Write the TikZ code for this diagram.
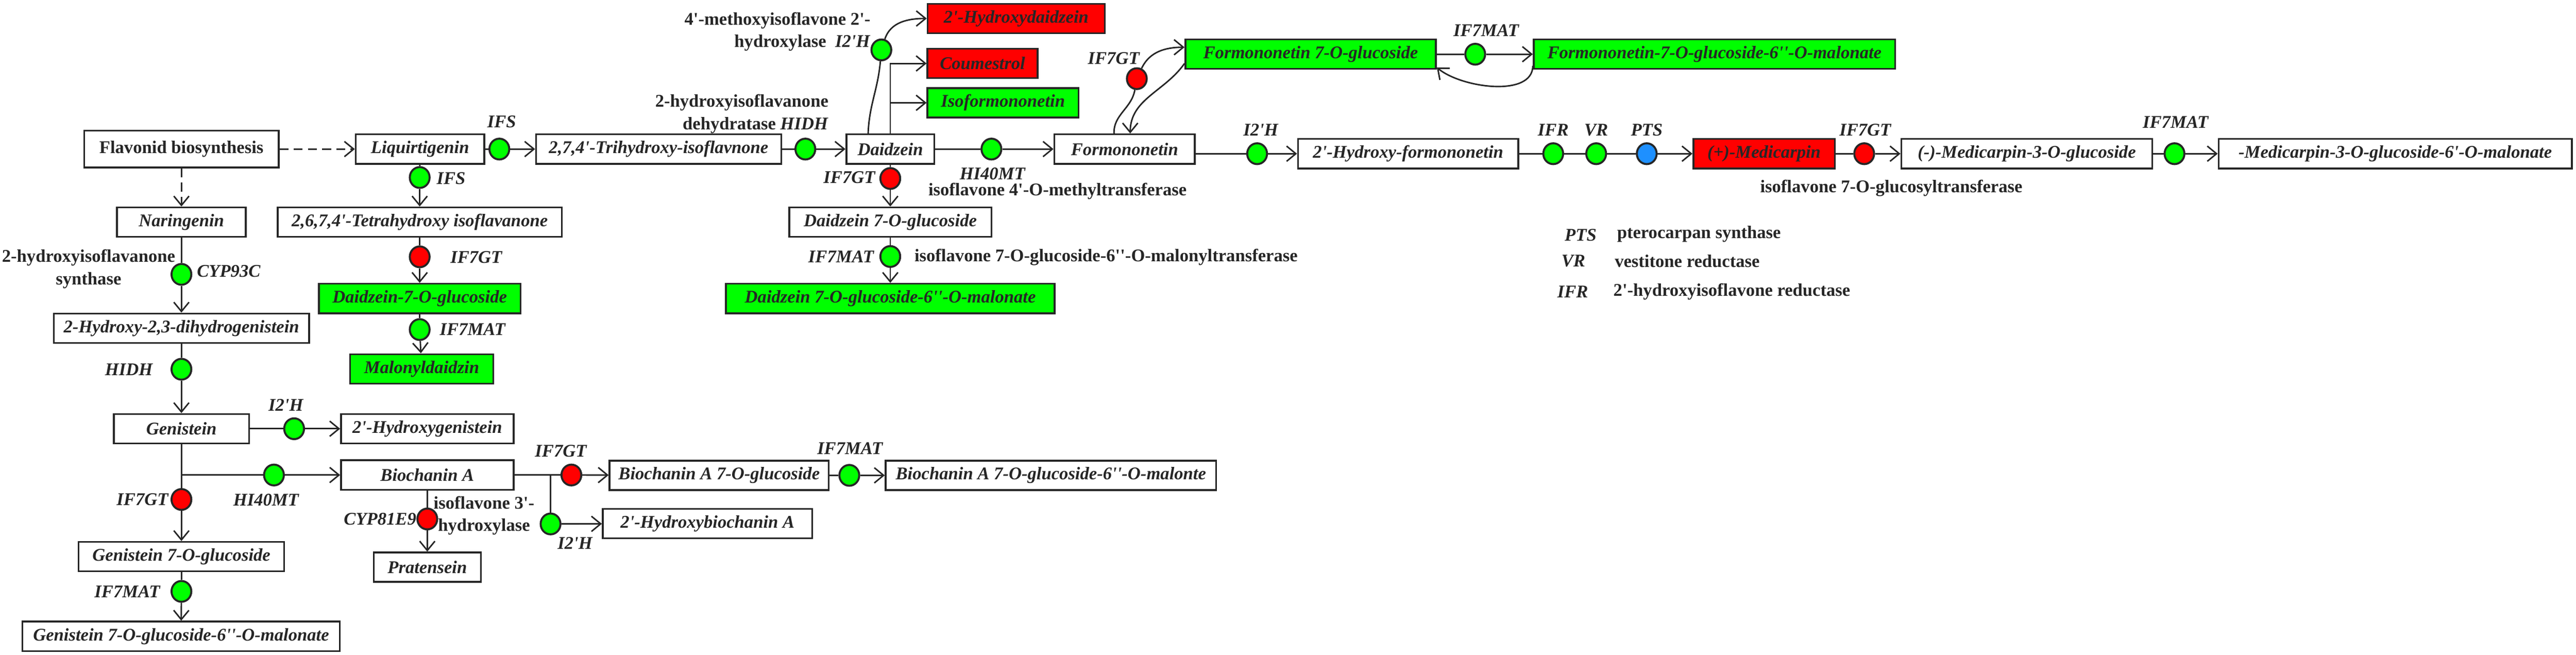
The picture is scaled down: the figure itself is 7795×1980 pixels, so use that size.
\documentclass[tikz,border=0pt]{standalone}
\usepackage{fontspec}
\newfontfamily\pathfont{Liberation Serif}
\usetikzlibrary{arrows.meta,shapes.geometric}

\definecolor{ink}{RGB}{38,38,38}
\definecolor{upgreen}{RGB}{0,255,0}
\definecolor{downred}{RGB}{255,0,0}
\definecolor{ptsblue}{RGB}{30,144,255}

\newcommand\cmpdfont{\pathfont\fontsize{10.8pt}{13.6pt}\selectfont\bfseries\itshape}
\newcommand\namefont{\pathfont\fontsize{10.8pt}{13.6pt}\selectfont\bfseries}

\tikzset{
  cmpd/.style={draw=ink, line width=1.1pt, fill=white, text=ink,
    minimum height=17.8pt, inner sep=1pt, font=\cmpdfont},
  cmpdgreen/.style={cmpd, fill=upgreen},
  cmpdred/.style={cmpd, fill=downred},
  bw/.style={minimum width=#1*0.2pt},
  enz/.style={ellipse, draw=ink, line width=1.2pt, minimum width=12pt,
    minimum height=12.6pt, inner sep=0pt},
  enzgreen/.style={enz, fill=upgreen},
  enzred/.style={enz, fill=downred},
  enzblue/.style={enz, fill=ptsblue},
  enzlabel/.style={inner sep=0pt, text=ink, font=\cmpdfont},
  enzname/.style={inner sep=0pt, text=ink, font=\namefont},
  arr/.style={-{Straight Barb[length=5.6pt,width=9.2pt]}},
  dashline/.style={dash pattern=on 5.4pt off 3.2pt}
}

\begin{document}
\begin{tikzpicture}[x=0.2pt, y=-0.2pt, color=ink, line width=0.9pt]
\useasboundingbox (0,0) rectangle (7795,1980);

% compounds
\node[cmpd, bw=588, minimum height=22.2pt, font=\namefont] (flav) at (549,451) {Flavonid biosynthesis};
\node[cmpd, bw=389] (liq) at (1271,451) {Liquirtigenin};
\node[cmpd, bw=742] (tri) at (1993,451) {2,7,4'-Trihydroxy-isoflavnone};
\node[cmpd, bw=266] (dai) at (2694,451) {Daidzein};
\node[cmpd, bw=425] (form) at (3403,451) {Formononetin};
\node[cmpd, bw=667] (ohform) at (4261,465) {2'-Hydroxy-formononetin};
\node[cmpdred, bw=428] (medi) at (5338,465) {(+)-Medicarpin};
\node[cmpd, bw=759] (medglc) at (6133,465) {(-)-Medicarpin-3-O-glucoside};
\node[cmpd, bw=1069] (medmal) at (7248,465) {-Medicarpin-3-O-glucoside-6'-O-malonate};
\node[cmpdred, bw=536] (ohdai) at (3075,56) {2'-Hydroxydaidzein};
\node[cmpdred, bw=333] (coum) at (2973,192) {Coumestrol};
\node[cmpdgreen, bw=457] (isof) at (3035,311) {Isoformononetin};
\node[cmpdgreen, bw=758] (fglc) at (3966,164) {Formononetin 7-O-glucoside};
\node[cmpdgreen, bw=1094] (fmal) at (5188,164) {Formononetin-7-O-glucoside-6''-O-malonate};
\node[cmpd, bw=860] (tetra) at (1270,672) {2,6,7,4'-Tetrahydroxy isoflavanone};
\node[cmpdgreen, bw=610] (dglca) at (1270,903) {Daidzein-7-O-glucoside};
\node[cmpdgreen, bw=434] (maldai) at (1276,1116) {Malonyldaidzin};
\node[cmpd, bw=390] (nar) at (549,672) {Naringenin};
\node[cmpd, bw=772] (dihyd) at (549,993) {2-Hydroxy-2,3-dihydrogenistein};
\node[cmpd, bw=409] (gen) at (549,1297) {Genistein};
\node[cmpd, bw=522] (ohgen) at (1293,1297) {2'-Hydroxygenistein};
\node[cmpd, bw=522] (bio) at (1293,1437) {Biochanin A};
\node[cmpd, bw=622] (gglc) at (549,1684) {Genistein 7-O-glucoside};
\node[cmpd, bw=960] (gmal) at (548,1925) {Genistein 7-O-glucoside-6''-O-malonate};
\node[cmpd, bw=324] (prat) at (1293,1716) {Pratensein};
\node[cmpd, bw=663] (bglc) at (2176,1438) {Biochanin A 7-O-glucoside};
\node[cmpd, bw=1000] (bmal) at (3180,1438) {Biochanin A 7-O-glucoside-6''-O-malonte};
\node[cmpd, bw=634] (ohbio) at (2141,1584) {2'-Hydroxybiochanin A};
\node[cmpd, bw=612] (dglcb) at (2694,672) {Daidzein 7-O-glucoside};
\node[cmpdgreen, bw=995] (dmal) at (2694,903) {Daidzein 7-O-glucoside-6''-O-malonate};

% enzymes
\node[enzgreen] (e1) at (1511,451) {};
\node[enzgreen] (e2) at (1270,537) {};
\node[enzred] (e3) at (1270,777) {};
\node[enzgreen] (e4) at (1270,997) {};
\node[enzgreen] (e5) at (549,830) {};
\node[enzgreen] (e6) at (549,1117) {};
\node[enzgreen] (e7) at (890,1297) {};
\node[enzgreen] (e8) at (829,1437) {};
\node[enzred] (e9) at (549,1511) {};
\node[enzgreen] (e10) at (549,1789) {};
\node[enzred] (e11) at (1293,1570) {};
\node[enzred] (e12) at (1729,1437) {};
\node[enzgreen] (e13) at (1666,1585) {};
\node[enzgreen] (e14) at (2570,1438) {};
\node[enzgreen] (e15) at (2437,451) {};
\node[enzgreen] (e16) at (2667,151) {};
\node[enzred] (e17) at (2694,540) {};
\node[enzgreen] (e18) at (2694,776) {};
\node[enzgreen] (e19) at (3000,451) {};
\node[enzred] (e20) at (3440,238) {};
\node[enzgreen] (e21) at (4464,164) {};
\node[enzgreen] (e22) at (3804,465) {};
\node[enzgreen] (e23) at (4700,465) {};
\node[enzgreen] (e24) at (4830,465) {};
\node[enzblue] (e25) at (4983,465) {};
\node[enzred] (e26) at (5641,465) {};
\node[enzgreen] (e27) at (6580,465) {};

% enzyme labels
\node[enzlabel] (l1) at (1518,369) {IFS};
\node[enzlabel] (l2) at (1365,539) {IFS};
\node[enzlabel] (l3) at (1441,779) {IF7GT};
\node[enzlabel] (l4) at (1430,997) {IF7MAT};
\node[enzlabel] (l5) at (692,820) {CYP93C};
\node[enzname, align=center] (n5) at (268,814) {2-hydroxyisoflavanone\\synthase};
\node[enzlabel] (l6) at (390,1118) {HIDH};
\node[enzlabel] (l7) at (865,1226) {I2'H};
\node[enzlabel] (l8) at (805,1512) {HI40MT};
\node[enzlabel] (l9) at (431,1511) {IF7GT};
\node[enzlabel] (l10) at (385,1790) {IF7MAT};
\node[enzlabel] (l11) at (1150,1570) {CYP81E9};
\node[enzname, anchor=west, align=left] (n11) at (1310,1560) {isoflavone 3'-\\\ hydroxylase};
\node[enzlabel] (l12) at (1697,1365) {IF7GT};
\node[enzlabel] (l13) at (1740,1643) {I2'H};
\node[enzlabel] (l14) at (2572,1356) {IF7MAT};
\node[enzname, anchor=east, align=right] (n15) at (2509,345) {2-hydroxyisoflavanone\\dehydratase \textit{HIDH}};
\node[enzname, anchor=east, align=right] (n16) at (2636,96) {4'-methoxyisoflavone 2'-\\hydroxylase\ \ \textit{I2'H}};
\node[enzlabel] (l17) at (2570,537) {IF7GT};
\node[enzlabel] (l18) at (2545,776) {IF7MAT};
\node[enzname, anchor=west] (n18) at (2765,778) {isoflavone 7-O-glucoside-6''-O-malonyltransferase};
\node[enzlabel] (l19) at (3003,526) {HI40MT};
\node[enzname] (n19) at (3200,578) {isoflavone 4'-O-methyltransferase};
\node[enzlabel] (l20) at (3370,177) {IF7GT};
\node[enzlabel] (l21) at (4497,92) {IF7MAT};
\node[enzlabel] (l22) at (3815,393) {I2'H};
\node[enzlabel] (l23) at (4700,393) {IFR};
\node[enzlabel] (l24) at (4830,393) {VR};
\node[enzlabel] (l25) at (4983,393) {PTS};
\node[enzlabel] (l26) at (5644,393) {IF7GT};
\node[enzname] (n26) at (5723,569) {isoflavone 7-O-glucosyltransferase};
\node[enzlabel] (l27) at (6583,369) {IF7MAT};

% legend
\node[enzlabel] (k1) at (4783,711) {PTS};
\node[enzname, anchor=west] (m1) at (4891,708) {pterocarpan synthase};
\node[enzlabel] (k2) at (4761,790) {VR};
\node[enzname, anchor=west] (m2) at (4884,790) {vestitone reductase};
\node[enzlabel] (k3) at (4759,882) {IFR};
\node[enzname, anchor=west] (m3) at (4880,882) {2'-hydroxyisoflavone reductase};

% connectors
\draw[arr, dashline] (flav) -- (liq);
\draw[arr, dashline] (flav) -- (nar);
\draw (liq) -- (e1); \draw[arr] (e1) -- (tri);
\draw (liq) -- (e2); \draw[arr] (e2) -- (tetra);
\draw (tetra) -- (e3); \draw[arr] (e3) -- (dglca);
\draw (dglca) -- (e4); \draw[arr] (e4) -- (maldai);
\draw (nar) -- (e5); \draw[arr] (e5) -- (dihyd);
\draw (dihyd) -- (e6); \draw[arr] (e6) -- (gen);
\draw (gen) -- (e7); \draw[arr] (e7) -- (ohgen);
\draw (gen) -- (e9); \draw[arr] (e9) -- (gglc);
\draw (gen.south |- e8) -- (e8); \draw[arr] (e8) -- (bio);
\draw (gglc) -- (e10); \draw[arr] (e10) -- (gmal);
\draw (bio) -- (e11); \draw[arr] (e11) -- (prat);
\draw (bio) -- (e12); \draw[arr] (e12) -- (bglc);
\draw (bio.east -| e13) -- (e13); \draw[arr] (e13) -- (ohbio);
\draw (bglc) -- (e14); \draw[arr] (e14) -- (bmal);
\draw (tri) -- (e15); \draw[arr] (e15) -- (dai);
\draw ([xshift=-13.4pt]dai.north) to[out=88,in=-95] (e16);
\draw[arr] (e16) to[out=72,in=180] (ohdai.west);
\draw[arr] (dai.north) |- (coum.west);
\draw[arr] (dai.north) |- (isof.west);
\draw (dai) -- (e17); \draw[arr] (e17) -- (dglcb);
\draw (dglcb) -- (e18); \draw[arr] (e18) -- (dmal);
\draw (dai) -- (e19); \draw[arr] (e19) -- (form);
\draw ([xshift=-6.4pt]form.north) to[out=92,in=-100] (e20);
\draw[arr] (e20) to[out=65,in=180] ([yshift=4.2pt]fglc.west);
\draw[arr] ([yshift=-5.6pt]fglc.west) to[out=-125,in=90] ([xshift=3.4pt]form.north);
\draw (fglc) -- (e21); \draw[arr] (e21) -- (fmal);
\draw[arr] ([yshift=-7pt]fmal.west) to[out=-90,in=-40,looseness=0.85] ([yshift=-8pt]fglc.east);
\draw (form.east |- e22) -- (e22); \draw[arr] (e22) -- (ohform);
\draw (ohform) -- (e23) -- (e24) -- (e25); \draw[arr] (e25) -- (medi);
\draw (medi) -- (e26); \draw[arr] (e26) -- (medglc);
\draw (medglc) -- (e27); \draw[arr] (e27) -- (medmal);
\end{tikzpicture}
\end{document}
